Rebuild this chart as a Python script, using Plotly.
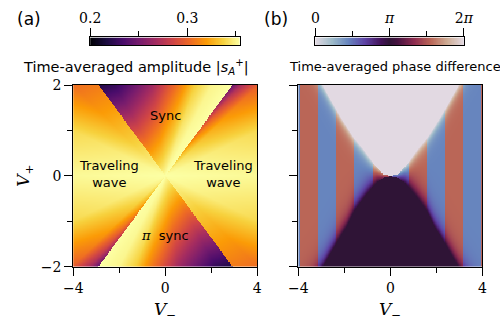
import numpy as np
import plotly.graph_objects as go

W, H = 500, 326

# parameter plane
V_MINUS_RANGE = [-4.0, 4.0]
V_PLUS_RANGE = [-2.0, 2.0]
GRID_NX, GRID_NY = 320, 320

# ---------- panel (a): time-averaged amplitude ----------
AMP_MIN, AMP_MAX = 0.2, 0.354
WEDGE_SLOPE = 0.69          # V+ = +/- 0.69 V- separates sync and traveling-wave wedges
# depth below AMP_MAX at the outer edge of the sync wedges (r: 0 on V+=+0.69V-, 1 on V+=-0.69V-)
SYNC_R = [0.0, 0.155, 0.28, 0.38, 0.48, 0.60, 0.72, 0.88, 0.97, 1.0]
SYNC_DEPTH = [0.0, 0.004, 0.018, 0.042, 0.062, 0.088, 0.106, 0.128, 0.133, 0.135]
# depth across the traveling-wave wedges (s: 0 on V+=-0.69V-, 1 on V+=+0.69V-)
TW_S = [0.0, 0.138, 0.32, 0.5, 0.68, 0.86, 0.95, 1.0]
TW_DEPTH = [0.045, 0.036, 0.010, 0.0015, 0.010, 0.040, 0.078, 0.110]

# ---------- panel (b): time-averaged phase difference ----------
STRIPE_WIDTH = np.pi / 4     # traveling-wave stripes in V-
STRIPE_PHASE = 0.444 * np.pi  # phase inside even stripes (odd ones: 2pi - value)
LIGHT_EDGE_X = [0.0, 0.3, 0.7, 1.2, 1.58, 2.2, 2.95, 4.2]
LIGHT_EDGE_Y = [0.0, 0.02, 0.24, 0.60, 0.83, 1.32, 2.0, 3.0]
DARK_EDGE_X = [0.0, 0.33, 0.6, 1.06, 1.57, 1.9, 2.33, 2.93, 4.2]
DARK_EDGE_Y = [-0.01, -0.05, -0.14, -0.42, -0.77, -1.12, -1.47, -2.0, -2.9]
EDGE_DECAY_TOP = 0.15
EDGE_DECAY_BOTTOM = 0.22

# colour maps
INFERNO = "Inferno"
TWILIGHT = [
    [0.0, "#e2d9e2"], [0.111, "#9ebbc9"], [0.222, "#6785be"], [0.333, "#5e43a5"],
    [0.444, "#421257"], [0.5, "#2f1436"], [0.556, "#471340"], [0.667, "#8e2c50"],
    [0.778, "#ba6657"], [0.889, "#ceac94"], [1.0, "#e2d9e2"],
]

vm = np.linspace(V_MINUS_RANGE[0], V_MINUS_RANGE[1], GRID_NX)
vp = np.linspace(V_PLUS_RANGE[0], V_PLUS_RANGE[1], GRID_NY)
X, Y = np.meshgrid(vm, vp)

# amplitude map
p = Y - WEDGE_SLOPE * X
q = Y + WEDGE_SLOPE * X
rho = np.maximum(np.abs(Y) / 2.0, np.abs(X) * WEDGE_SLOPE / 2.0)
sync = p * q > 0
with np.errstate(divide="ignore", invalid="ignore"):
    r = np.where(sync, p / (p + q), 0.0)
    s = np.where(~sync, -q / (p - q), 0.0)
r = np.nan_to_num(r, nan=0.5)
s = np.nan_to_num(s, nan=0.5)
depth = np.where(sync, np.interp(r, SYNC_R, SYNC_DEPTH), np.interp(s, TW_S, TW_DEPTH))
amp = np.round(AMP_MAX - depth * rho, 5)

# phase map
ax = np.abs(X)
y_light = np.interp(ax, LIGHT_EDGE_X, LIGHT_EDGE_Y)
y_dark = np.interp(ax, DARK_EDGE_X, DARK_EDGE_Y)
k = np.floor(X / STRIPE_WIDTH)
even = (k % 2) == 0
top = np.exp(-np.clip(y_light - Y, 0, None) / EDGE_DECAY_TOP)
bot = np.exp(-np.clip(Y - y_dark, 0, None) / EDGE_DECAY_BOTTOM)
phi_even = STRIPE_PHASE * (1 - top) + (np.pi - STRIPE_PHASE) * bot
phase = np.where(even, phi_even, 2 * np.pi - phi_even)
phase = np.where(Y >= y_light, 0.0, phase)
phase = np.where(Y <= y_dark, np.pi, phase)
phase = np.round(phase, 4)


def px(x):
    return x / W


def py(y):
    return 1 - y / H


fig = go.Figure()
fig.add_trace(go.Heatmap(x=vm, y=vp, z=amp, colorscale=INFERNO, zmin=AMP_MIN, zmax=AMP_MAX,
                         showscale=False, xaxis="x", yaxis="y", hoverinfo="skip"))
fig.add_trace(go.Heatmap(x=vm, y=vp, z=phase, colorscale=TWILIGHT, zmin=0, zmax=2 * np.pi,
                         showscale=False, xaxis="x2", yaxis="y2", hoverinfo="skip"))

# colour bar strips
cb_a = np.linspace(AMP_MIN, AMP_MAX, 256)
cb_b = np.linspace(0, 2 * np.pi, 256)
fig.add_trace(go.Heatmap(x=cb_a, y=[0], z=[cb_a], colorscale=INFERNO, zmin=AMP_MIN, zmax=AMP_MAX,
                         showscale=False, xaxis="x3", yaxis="y3", hoverinfo="skip"))
fig.add_trace(go.Heatmap(x=cb_b, y=[0], z=[cb_b], colorscale=TWILIGHT, zmin=0, zmax=2 * np.pi,
                         showscale=False, xaxis="x4", yaxis="y4", hoverinfo="skip"))

SERIF = "DejaVu Serif"
SANS = "DejaVu Sans"
tickfont = dict(family=SERIF, size=14, color="black")
frame = dict(showline=True, linecolor="black", linewidth=1.2, mirror=True,
             showgrid=False, zeroline=False, ticks="outside", tickcolor="black",
             tickwidth=1.2, ticklen=8, tickfont=tickfont)
minor_ticks = dict(ticks="outside", ticklen=5, tickwidth=1.2, tickcolor="black")

ya_dom = [py(272), py(81)]
fig.update_layout(
    width=W, height=H, margin=dict(l=0, r=0, t=0, b=0),
    paper_bgcolor="white", plot_bgcolor="white", showlegend=False,
    xaxis=dict(domain=[px(65), px(257)], range=V_MINUS_RANGE, anchor="y", tick0=0, dtick=4,
               minor=dict(dtick=2, tick0=0, **minor_ticks), **frame),
    yaxis=dict(domain=ya_dom, range=V_PLUS_RANGE, anchor="x", tick0=0, dtick=2,
               minor=dict(dtick=1, tick0=0, **minor_ticks), **frame),
    xaxis2=dict(domain=[px(300), px(492)], range=V_MINUS_RANGE, anchor="y2", tick0=0, dtick=4,
                minor=dict(dtick=2, tick0=0, **minor_ticks), **frame),
    yaxis2=dict(domain=ya_dom, range=V_PLUS_RANGE, anchor="x2", tick0=0, dtick=2, showticklabels=False,
                minor=dict(dtick=1, tick0=0, **minor_ticks), **frame),
    xaxis3=dict(domain=[px(82.7), px(238.7)], range=[AMP_MIN, AMP_MAX], anchor="y3", side="top",
                tickvals=[0.2, 0.3], ticktext=["0.2", "0.3"],
                minor=dict(tickvals=[0.25, 0.35], **minor_ticks), **frame),
    yaxis3=dict(domain=[py(39), py(31)], range=[-0.5, 0.5], anchor="x3", showline=True, mirror=True,
                linecolor="black", linewidth=1.2, showticklabels=False, ticks="", showgrid=False, zeroline=False),
    xaxis4=dict(domain=[px(317.7), px(472.7)], range=[0, 2 * np.pi], anchor="y4", side="top",
                tickvals=[0, np.pi, 2 * np.pi], ticktext=["0", "<i>π</i>", "2<i>π</i>"],
                minor=dict(tickvals=[np.pi / 2, 3 * np.pi / 2], **minor_ticks), **frame),
    yaxis4=dict(domain=[py(39), py(31)], range=[-0.5, 0.5], anchor="x4", showline=True, mirror=True,
                linecolor="black", linewidth=1.2, showticklabels=False, ticks="", showgrid=False, zeroline=False),
)


def label(text, x, y, size=13, family=SANS, xanchor="center", angle=0):
    fig.add_annotation(text=text, x=px(x), y=py(y), xref="paper", yref="paper",
                       xanchor=xanchor, yanchor="middle", showarrow=False, textangle=angle,
                       font=dict(family=family, size=size, color="black"))


label("(a)", 19, 12, size=17)
label("(b)", 277, 12, size=17)
label("Time-averaged amplitude |<i>s</i><sub><i>A</i></sub><sup>+</sup>|", 10, 62, size=14.5, xanchor="left")
label("Time-averaged phase difference", 288, 62, size=13, xanchor="left")
label("Sync", 161, 113)
label("Traveling<br>wave", 102, 175)
label("Traveling<br>wave", 221, 175)
label("<span style='font-family:DejaVu Serif'><i>π</i></span>  sync", 161, 239)
label("<i>V</i><sub>+</sub>", 14, 176, size=17, family=SERIF, angle=-90)
label("<i>V</i><sub>−</sub>", 161, 318, size=17, family=SERIF)
label("<i>V</i><sub>−</sub>", 396, 318, size=17, family=SERIF)

fig.write_html("out.html")
